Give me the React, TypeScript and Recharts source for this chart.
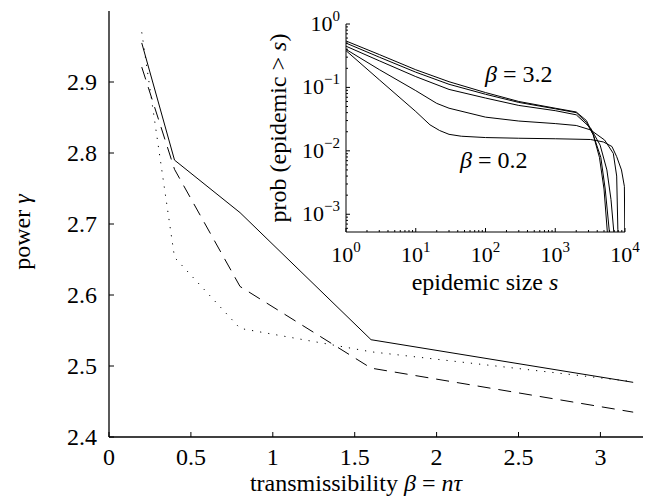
import React from "react";
import { LineChart, Line, XAxis, YAxis } from "recharts";

const FONT = "Liberation Serif, DejaVu Serif, Times New Roman, serif";
const FS = 24;

// main plot: power gamma vs transmissibility beta
const betaValues = [0.2, 0.4, 0.8, 1.6, 3.2];
const gammaSolid = [2.955, 2.79, 2.716, 2.537, 2.477];
const gammaDashed = [2.921, 2.777, 2.612, 2.497, 2.435];
const gammaDotted = [2.97, 2.653, 2.553, 2.52, 2.478];
const betaTicks = [0, 0.5, 1, 1.5, 2, 2.5, 3];
const gammaTicks = [2.4, 2.5, 2.6, 2.7, 2.8, 2.9];

// inset: cumulative distribution of epidemic sizes
const sizeB32 = [1, 3, 10, 30, 100, 300, 1000, 2000, 2800, 3500, 4300, 5000, 5600, 5900];
const probB32 = [0.54, 0.33, 0.19, 0.123, 0.083, 0.06, 0.047, 0.041, 0.03, 0.018, 0.0079, 0.0025, 0.0005, 0.0001];
const sizeB16 = [1, 3, 10, 30, 100, 300, 1000, 2000, 2800, 3500, 4500, 5200, 6000, 6300];
const probB16 = [0.5, 0.3, 0.174, 0.112, 0.078, 0.058, 0.046, 0.04, 0.028, 0.018, 0.0079, 0.0025, 0.0005, 0.0001];
const sizeB08 = [1, 3, 10, 30, 100, 300, 1000, 2000, 3200, 4400, 5500, 6300, 6900, 7200];
const probB08 = [0.447, 0.263, 0.148, 0.093, 0.068, 0.052, 0.043, 0.037, 0.023, 0.0123, 0.005, 0.0017, 0.00054, 0.0001];
const sizeB04 = [1, 3, 10, 20, 30, 100, 300, 1000, 2000, 3200, 5100, 6800, 7600, 7900, 8100];
const probB04 = [0.398, 0.191, 0.089, 0.056, 0.047, 0.034, 0.0295, 0.0269, 0.0251, 0.0214, 0.0148, 0.0091, 0.004, 0.00058, 0.0001];
const sizeB02 = [1, 3, 10, 16, 22, 30, 45, 100, 300, 1000, 3200, 4900, 6500, 7600, 8900, 9800, 10000];
const probB02 = [0.38, 0.132, 0.0417, 0.0257, 0.0209, 0.0182, 0.017, 0.0162, 0.0158, 0.0155, 0.0151, 0.0138, 0.0117, 0.0081, 0.005, 0.00275, 0.00025];

const sizeDecades = [1, 10, 100, 1000];
const probDecades = [0.001, 0.01, 0.1];

// decade tick plus its minor ticks 2..9
const withMinors = (decades: number[]) => {
  const out: number[] = [];
  decades.forEach((d) => {
    for (let k = 1; k <= 9; k++) out.push(d * k);
  });
  return out;
};

const sizeTicks = withMinors(sizeDecades).concat([10000]);
const probTicks = [0.0006, 0.0007, 0.0008, 0.0009].concat(withMinors(probDecades), [1]);

const mainData = betaValues.map((b, i) => ({
  beta: b,
  solid: gammaSolid[i],
  dashed: gammaDashed[i],
  dotted: gammaDotted[i],
}));

const curve = (sizes: number[], probs: number[]) => sizes.map((s, i) => ({ s, p: probs[i] }));
const curves = [
  curve(sizeB32, probB32),
  curve(sizeB16, probB16),
  curve(sizeB08, probB08),
  curve(sizeB04, probB04),
  curve(sizeB02, probB02),
];

const isDecade = (v: number) => Math.abs(Math.log10(v) - Math.round(Math.log10(v))) < 1e-6;
const expText = (v: number) => {
  const e = Math.round(Math.log10(v));
  return e < 0 ? "\u2212" + Math.abs(e) : String(e);
};

const txt = { fontFamily: FONT, fontSize: FS, fill: "#000" };
const insetTxt = { fontFamily: FONT, fontSize: 22, fill: "#000" };

const MainXTick = (props: any) => {
  const { x, y, payload } = props;
  return (
    <g>
      <line x1={x} y1={y} x2={x} y2={y - 5} stroke="#000" strokeWidth={1} />
      <text x={x} y={y + 28} textAnchor="middle" style={txt}>
        {payload.value}
      </text>
    </g>
  );
};

const MainTopTick = (props: any) => {
  const { x, y } = props;
  return <line x1={x} y1={y} x2={x} y2={y + 5} stroke="#000" strokeWidth={1} />;
};

const MainYTick = (props: any) => {
  const { x, y, payload } = props;
  return (
    <g>
      <line x1={x} y1={y} x2={x + 5} y2={y} stroke="#000" strokeWidth={1} />
      <text x={x - 12} y={y + 8} textAnchor="end" style={txt}>
        {payload.value}
      </text>
    </g>
  );
};

const InsetXTick = (props: any) => {
  const { x, y, payload, top } = props;
  const major = isDecade(payload.value);
  const len = major ? 4 : 2;
  return (
    <g>
      <line x1={x} y1={y} x2={x} y2={top ? y + len : y - len} stroke="#000" strokeWidth={1} />
      {!top && major && (
        <text x={x} y={y + 30} textAnchor="middle" style={insetTxt}>
          10<tspan dy={-10} style={{ fontSize: 15 }}>{expText(payload.value)}</tspan>
        </text>
      )}
    </g>
  );
};

const InsetYTick = (props: any) => {
  const { x, y, payload, right } = props;
  const major = isDecade(payload.value);
  const len = major ? 4 : 2;
  return (
    <g>
      <line x1={x} y1={y} x2={right ? x - len : x + len} y2={y} stroke="#000" strokeWidth={1} />
      {!right && major && (
        <text x={x - 6} y={y + 7} textAnchor="end" style={insetTxt}>
          10<tspan dy={-10} style={{ fontSize: 15 }}>{expText(payload.value)}</tspan>
        </text>
      )}
    </g>
  );
};

export default function App() {
  const axisLine = { stroke: "#000", strokeWidth: 1.3 };
  const insetLine = { stroke: "#000", strokeWidth: 1 };
  return (
    <div style={{ position: "absolute", left: 0, top: 0, width: 654, height: 500, background: "#fff" }}>
      <LineChart width={654} height={500} data={mainData} margin={{ top: 11, right: 11, bottom: 0, left: 0 }}>
        <XAxis
          dataKey="beta"
          type="number"
          domain={[0, 3.26]}
          ticks={betaTicks}
          interval={0}
          height={63}
          tickSize={0}
          tickMargin={0}
          tickLine={false}
          axisLine={axisLine}
          tick={(p: any) => <MainXTick {...p} />}
          allowDataOverflow
        />
        <XAxis
          xAxisId="top"
          orientation="top"
          dataKey="beta"
          type="number"
          domain={[0, 3.26]}
          ticks={betaTicks}
          interval={0}
          height={0}
          tickSize={0}
          tickMargin={0}
          tickLine={false}
          axisLine={axisLine}
          tick={(p: any) => <MainTopTick {...p} />}
          allowDataOverflow
        />
        <YAxis
          type="number"
          domain={[2.4, 3.0]}
          ticks={gammaTicks}
          interval={0}
          width={109}
          tickSize={0}
          tickMargin={0}
          tickLine={false}
          axisLine={axisLine}
          tick={(p: any) => <MainYTick {...p} />}
          allowDataOverflow
        />
        <Line dataKey="solid" stroke="#000" strokeWidth={1} dot={false} isAnimationActive={false} type="linear" />
        <Line dataKey="dashed" stroke="#000" strokeWidth={1} strokeDasharray="13 8" dot={false} isAnimationActive={false} type="linear" />
        <Line dataKey="dotted" stroke="#000" strokeWidth={1} strokeDasharray="1.2 7" dot={false} isAnimationActive={false} type="linear" />
      </LineChart>

      <div style={{ position: "absolute", left: 240, top: 0 }}>
        <LineChart width={400} height={300} margin={{ top: 24, right: 15, bottom: 0, left: 0 }}>
          <XAxis
            dataKey="s"
            type="number"
            scale="log"
            domain={[1, 10000]}
            ticks={sizeTicks}
            interval={0}
            height={68}
            tickSize={0}
            tickMargin={0}
            tickLine={false}
            axisLine={insetLine}
            tick={(p: any) => <InsetXTick {...p} />}
            allowDataOverflow
          />
          <XAxis
            xAxisId="top"
            orientation="top"
            dataKey="s"
            type="number"
            scale="log"
            domain={[1, 10000]}
            ticks={sizeTicks}
            interval={0}
            height={0}
            tickSize={0}
            tickMargin={0}
            tickLine={false}
            axisLine={insetLine}
            tick={(p: any) => <InsetXTick {...p} top />}
            allowDataOverflow
          />
          <YAxis
            type="number"
            scale="log"
            domain={[0.000525, 1]}
            ticks={probTicks}
            interval={0}
            width={106}
            tickSize={0}
            tickMargin={0}
            tickLine={false}
            axisLine={insetLine}
            tick={(p: any) => <InsetYTick {...p} />}
            allowDataOverflow
          />
          <YAxis
            yAxisId="right"
            orientation="right"
            type="number"
            scale="log"
            domain={[0.000525, 1]}
            ticks={probTicks}
            interval={0}
            width={0}
            tickSize={0}
            tickMargin={0}
            tickLine={false}
            axisLine={insetLine}
            tick={(p: any) => <InsetYTick {...p} right />}
            allowDataOverflow
          />
          {curves.map((c, i) => (
            <Line
              key={i}
              data={c}
              dataKey="p"
              stroke="#000"
              strokeWidth={1}
              dot={false}
              isAnimationActive={false}
              type="linear"
            />
          ))}
        </LineChart>
      </div>

      <svg width={654} height={500} style={{ position: "absolute", left: 0, top: 0, pointerEvents: "none" }}>
        <g style={txt}>
          <text x={356} y={491} textAnchor="middle">
            transmissibility <tspan fontStyle="italic">β</tspan> = <tspan fontStyle="italic">nτ</tspan>
          </text>
          <text x={30} y={232} textAnchor="middle" transform="rotate(-90 30 232)">
            power <tspan fontStyle="italic">γ</tspan>
          </text>
          <text x={286} y={128} textAnchor="middle" transform="rotate(-90 286 128)">
            prob (epidemic &gt; <tspan fontStyle="italic">s</tspan>)
          </text>
          <text x={485} y={290} textAnchor="middle">
            epidemic size  <tspan fontStyle="italic">s</tspan>
          </text>
          <text x={485} y={82}>
            <tspan fontStyle="italic">β</tspan> = 3.2
          </text>
          <text x={460} y={168}>
            <tspan fontStyle="italic">β</tspan> = 0.2
          </text>
        </g>
      </svg>
    </div>
  );
}
